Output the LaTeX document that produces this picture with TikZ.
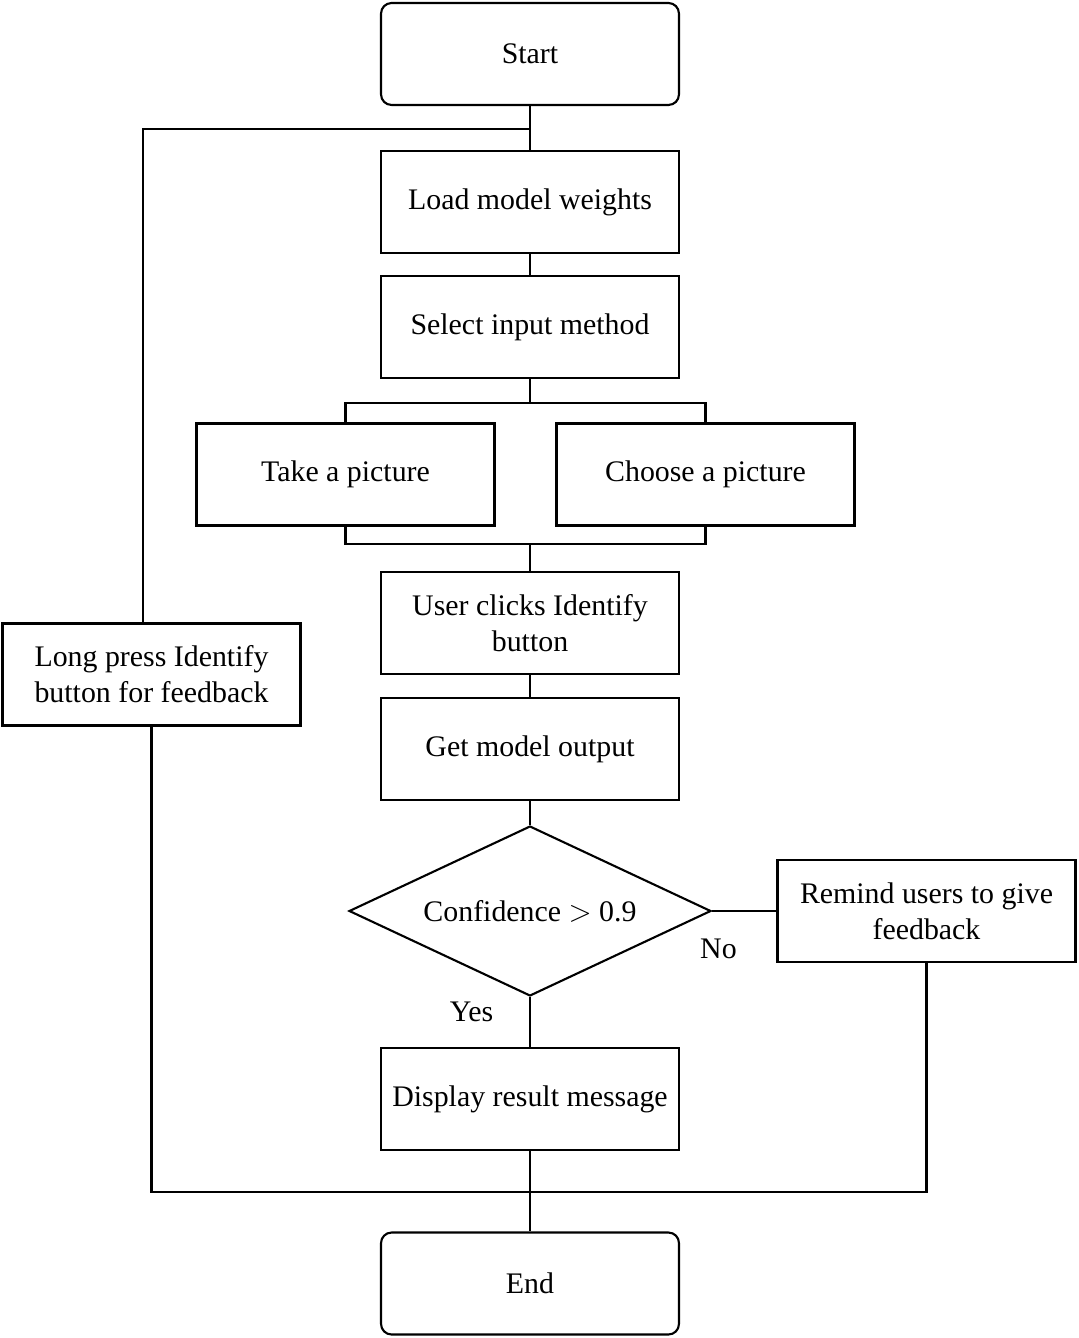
\documentclass[tikz,border=0pt]{standalone}
\usepackage{fontspec}
\setmainfont{Liberation Serif}
\usetikzlibrary{shapes.geometric}
\begin{document}
\begin{tikzpicture}[x=0.02cm, y=-0.02cm, line width=1.2pt,
  every node/.style={font=\fontsize{17}{20.4}\selectfont},
  stepbox/.style={draw,minimum width=5.96cm,minimum height=2.04cm,inner sep=2pt,align=center},
  termbox/.style={stepbox,rounded corners=6pt},
  decide/.style={draw,diamond,aspect=2.13,inner sep=0pt,minimum width=7.24cm,minimum height=3.4cm}]
\useasboundingbox (0,0) rectangle (1078,1338);
% main column
\node[termbox] (start) at (530,54) {Start};
\node[stepbox] (load) at (530,202) {Load model weights};
\node[stepbox] (sel) at (530,327) {Select input method};
\node[stepbox] (take) at (345.5,474.5) {Take a picture};
\node[stepbox] (choose) at (705.5,474.5) {Choose a picture};
\node[stepbox] (click) at (530,623) {User clicks Identify\\button};
\node[stepbox] (output) at (530,749) {Get model output};
\node[decide] (conf) at (530,911) {Confidence $>$ 0.9};
\node[stepbox] (remind) at (926.5,911) {Remind users to give\\feedback};
\node[stepbox] (show) at (530,1099) {Display result message};
\node[termbox] (end) at (530,1283.5) {End};
\node[stepbox] (fb) at (151.5,674.5) {Long press Identify\\button for feedback};
% helper points
\coordinate (splitT) at (530,403);
\coordinate (splitB) at (530,544);
\coordinate (loopT) at (530,129);
\coordinate (loopB) at (530,1192);
% connectors
\draw (start) -- (load);
\draw (load) -- (sel);
\draw (sel) -- (splitT);
\draw (take.north) |- (splitT) -| (choose.north);
\draw (take.south) |- (splitB) -| (choose.south);
\draw (splitB) -- (click);
\draw (click) -- (output);
\draw (output) -- (conf);
\draw (conf) -- (show) node[pos=0.3,left=17pt] {Yes};
\draw (conf.east) -- (remind.west) node[pos=0.1,below=12pt] {No};
\draw (show) -- (end);
\draw (fb.south) |- (loopB) -| (remind.south);
\draw ([xshift=-0.17cm]fb.north) |- (loopT);
\end{tikzpicture}
\end{document}
